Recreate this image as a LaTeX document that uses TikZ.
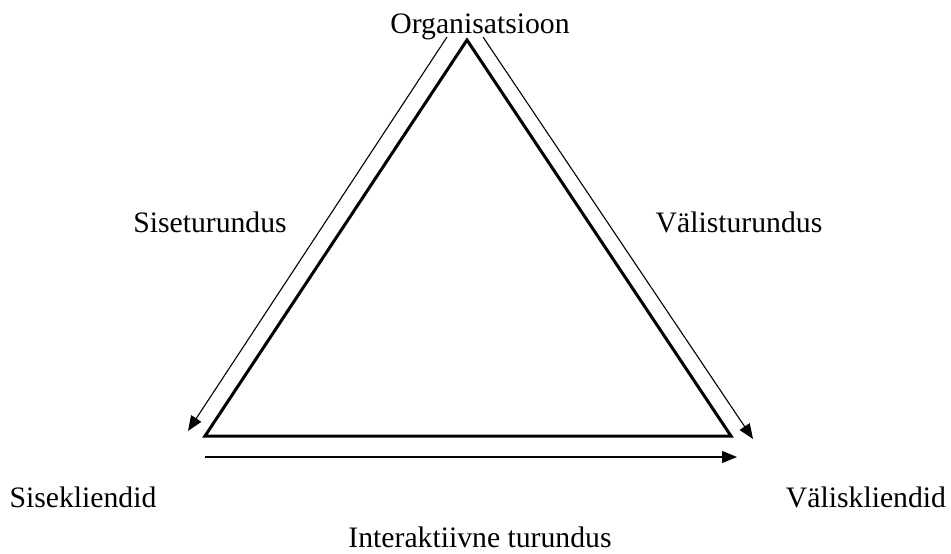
\documentclass[tikz,border=0pt]{standalone}
\usepackage{fontspec}
\setmainfont{Liberation Serif}
\usetikzlibrary{arrows.meta}
\begin{document}
\begin{tikzpicture}[x=1pt,y=-1pt,
  lbl/.style={anchor=base,inner sep=0pt,font=\fontsize{29.7}{34}\selectfont},
  thin arrow/.style={line width=1.1pt,-{Triangle[length=15pt,width=12pt]}},
  tri/.style={line width=3pt,line join=miter}]
\useasboundingbox (0,0) rectangle (951,554);
\coordinate (A) at (467,40);
\coordinate (B) at (205,436);
\coordinate (C) at (731,436);
\draw[tri] (A) -- (B) -- (C) -- cycle;
\coordinate (L1) at (447,37);
\coordinate (L2) at (188,431);
\coordinate (R1) at (483,37);
\coordinate (R2) at (753,439);
\coordinate (H1) at (205,457);
\coordinate (H2) at (737,457);
\draw[thin arrow] (L1) -- (L2);
\draw[thin arrow] (R1) -- (R2);
\draw[thin arrow] (H1) -- (H2);
\node[lbl] (org) at (480,33) {Organisatsioon};
\node[lbl] (sis) at (210,232) {Siseturundus};
\node[lbl] (val) at (739,232) {Välisturundus};
\node[lbl] (sk) at (83,507) {Sisekliendid};
\node[lbl] (vk) at (866,507) {Väliskliendid};
\node[lbl] (it) at (480,547) {Interaktiivne turundus};
\end{tikzpicture}
\end{document}
